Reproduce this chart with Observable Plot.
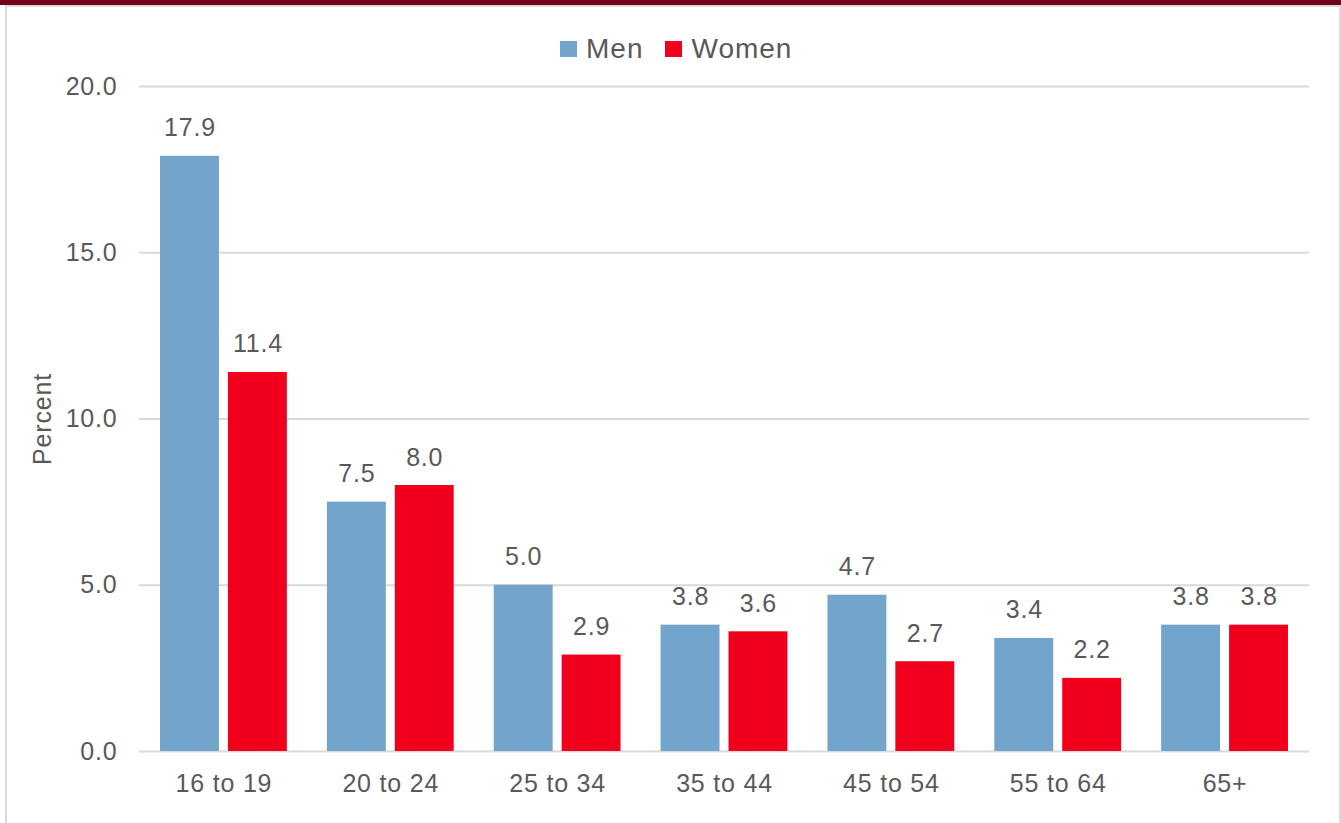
<!DOCTYPE html>
<html>
<head>
<meta charset="utf-8">
<script src="https://cdn.jsdelivr.net/npm/d3@7"></script>
<script src="https://cdn.jsdelivr.net/npm/@observablehq/plot@0.6"></script>
<style>
  html, body { margin: 0; padding: 0; background: #fff; }
  body { width: 1341px; height: 823px; overflow: hidden; position: relative; font-family: "Liberation Sans", Arial, sans-serif; }
  #band { position: absolute; left: 0; top: 0; width: 1341px; height: 5px; background: #720019; }
  #box { position: absolute; left: 5px; top: 5px; width: 1332px; height: 900px; border: 2px solid #dadada; box-sizing: content-box; }
  #legend { position: absolute; top: 33px; left: 560px; display: flex; align-items: center; font-size: 28px; color: #595959; letter-spacing: 1px; }
  #legend .item { display: flex; align-items: center; margin-right: 22px; }
  #legend .sw { width: 17px; height: 16px; margin-right: 9px; }
  #chart { position: absolute; left: 0; top: 0; }
  #chart svg text { letter-spacing: 0.8px; }
</style>
</head>
<body>
<div id="band"></div>
<div id="box"></div>
<div id="legend"></div>
<div id="chart"></div>
<script>
const categories = ["16 to 19", "20 to 24", "25 to 34", "35 to 44", "45 to 54", "55 to 64", "65+"];
const men   = [17.9, 7.5, 5.0, 3.8, 4.7, 3.4, 3.8];
const women = [11.4, 8.0, 2.9, 3.6, 2.7, 2.2, 3.8];
const seriesNames = ["Men", "Women"];
const seriesColors = ["#72A4CC", "#F0001C"];
const yTicks = [0, 5, 10, 15, 20];

const menData = categories.map((c, i) => ({category: c, value: men[i], series: "Men"}));
const womenData = categories.map((c, i) => ({category: c, value: women[i], series: "Women"}));

const W = 1341, H = 823, ml = 139, mr = 32, mt = 86, mb = 72;
const pIn = 0.24, pOut = 0.126;
const step = (W - ml - mr) / (categories.length - pIn + 2 * pOut);
const bw = step * (1 - pIn);
const gap = 9;
const half = bw / 2 + gap / 2;
const off = bw / 4 + gap / 4;
const textColor = "#595959";

const legend = document.getElementById("legend");
seriesNames.forEach((s, i) => {
  const it = document.createElement("div");
  it.className = "item";
  const sw = document.createElement("div");
  sw.className = "sw";
  sw.style.background = seriesColors[i];
  const t = document.createElement("span");
  t.textContent = s;
  it.appendChild(sw); it.appendChild(t);
  legend.appendChild(it);
});

const plot = Plot.plot({
  width: W, height: H,
  marginLeft: ml, marginRight: mr, marginTop: mt, marginBottom: mb,
  style: {fontFamily: "'Liberation Sans', Arial, sans-serif", background: "transparent", color: textColor},
  x: {domain: categories, paddingInner: pIn, paddingOuter: pOut, round: false, label: null},
  y: {domain: [0, 20], label: null},
  marks: [
    Plot.ruleY(yTicks, {stroke: "#d9d9d9", strokeWidth: 2}),
    Plot.barY(menData, {x: "category", y: "value", fill: seriesColors[0], insetRight: half}),
    Plot.barY(womenData, {x: "category", y: "value", fill: seriesColors[1], insetLeft: half}),
    Plot.text(menData, {x: "category", y: "value", text: d => d.value.toFixed(1), dx: -off, dy: -28, lineAnchor: "middle", fontSize: 25, fill: textColor}),
    Plot.text(womenData, {x: "category", y: "value", text: d => d.value.toFixed(1), dx: off, dy: -28, lineAnchor: "middle", fontSize: 25, fill: textColor}),
    Plot.axisY({ticks: yTicks, tickFormat: d => d.toFixed(1), tickSize: 0, tickPadding: 22, fontSize: 25, fill: textColor, label: null}),
    Plot.axisX({tickSize: 0, tickPadding: 23, fontSize: 25, fill: textColor, label: null}),
    Plot.text(["Percent"], {frameAnchor: "left", dx: -97, rotate: -90, textAnchor: "middle", fontSize: 25, fill: textColor})
  ]
});
document.getElementById("chart").appendChild(plot);
</script>
</body>
</html>
